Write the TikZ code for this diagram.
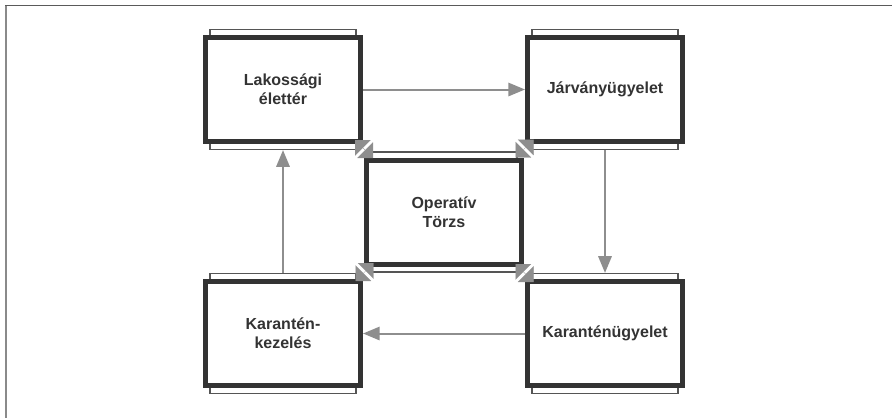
\documentclass[tikz,border=0pt]{standalone}
\usepackage{fontspec}
\setmainfont{Liberation Sans}
\usetikzlibrary{arrows.meta}
\definecolor{framegray}{HTML}{5A5A5A}
\definecolor{framelight}{HTML}{8A8A8A}
\definecolor{boxdark}{HTML}{333333}
\definecolor{backline}{HTML}{555555}
\definecolor{flowgray}{HTML}{8E8E8E}
\definecolor{labelgray}{HTML}{333333}
\tikzset{
  unitbox/.style={draw=boxdark, line width=3.75pt, fill=white,
    minimum width=116.25pt, minimum height=78pt, inner sep=0pt,
    text=labelgray, align=center,
    font=\bfseries\fontsize{12}{14.25}\selectfont},
  backplate/.style={draw=backline, line width=0.9pt,
    minimum width=109.5pt, minimum height=90pt, inner sep=0pt},
  flow/.style={draw=flowgray, line width=1.5pt,
    -{Triangle[length=12.5pt, width=10pt]}},
  cornerlink/.style={draw=flowgray, fill=flowgray, line width=0.01pt,
    {Triangle[length=8.3pt, width=16.6pt]}-{Triangle[length=8.3pt, width=16.6pt]}}
}
\begin{document}
\begin{tikzpicture}[x=0.75pt, y=-0.75pt]
  \useasboundingbox (0,0) rectangle (892,418);

  % outer frame (top and left edges only)
  \draw[framelight, line width=1.5pt] (5.5,5) -- (5.5,418);
  \draw[framegray, line width=1.1pt] (5,5.5) -- (892,5.5);

  % plates behind the units
  \node[backplate] (b1back) at (283,89.5) {};
  \node[backplate] (b2back) at (605,89.5) {};
  \node[backplate] (b3back) at (283,333.5) {};
  \node[backplate] (b4back) at (605,333.5) {};
  \node[backplate] (cback)  at (444,212) {};

  % units
  \node[unitbox] (b1) at (283,89.5) {Lakossági\\élettér};
  \node[unitbox] (b2) at (605,89.5) {Járványügyelet};
  \node[unitbox] (b3) at (283,333.5) {Karantén-\\kezelés};
  \node[unitbox] (b4) at (605,333.5) {Karanténügyelet};
  \node[unitbox] (ctr) at (444,212) {Operatív\\Törzs};

  % circular flow
  \draw[flow] (b1.east) -- (b2.west);
  \draw[flow] (b2back.south) -- (b4back.north);
  \draw[flow] (b4.west) -- (b3.east);
  \draw[flow] (b3back.north) -- (b1back.south);

  % links between the central unit and the corners
  \coordinate (tla) at (355,140);   \coordinate (tlb) at (373,158);
  \coordinate (tra) at (533.5,139.5); \coordinate (trb) at (515.5,157.5);
  \coordinate (bla) at (355.5,281); \coordinate (blb) at (373.5,263);
  \coordinate (bra) at (533.5,282); \coordinate (brb) at (515.5,264);
  \draw[cornerlink] (tla) -- (tlb);
  \draw[cornerlink] (tra) -- (trb);
  \draw[cornerlink] (bla) -- (blb);
  \draw[cornerlink] (bra) -- (brb);
\end{tikzpicture}
\end{document}
